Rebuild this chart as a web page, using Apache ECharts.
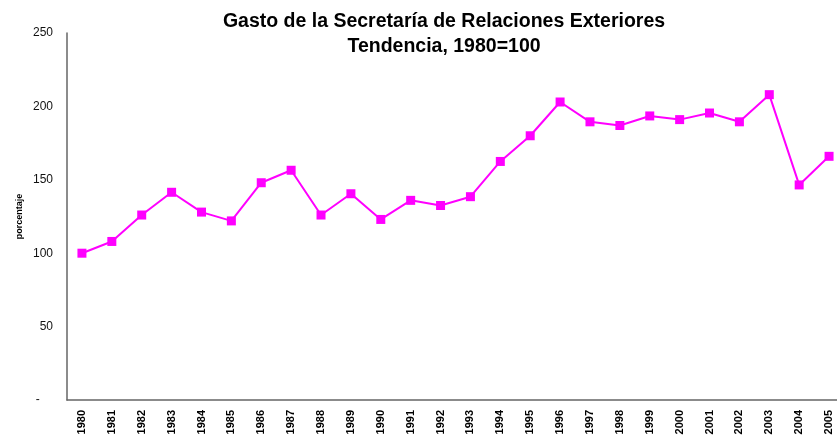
<!DOCTYPE html>
<html>
<head>
<meta charset="utf-8">
<script src="https://cdn.jsdelivr.net/npm/echarts@6/dist/echarts.min.js"></script>
<style>html,body{margin:0;padding:0;background:#fff;}#c{width:837px;height:439px;}</style>
</head>
<body>
<div id="c"></div>
<script>
var years = ['1980','1981','1982','1983','1984','1985','1986','1987','1988','1989','1990','1991','1992','1993','1994','1995','1996','1997','1998','1999','2000','2001','2002','2003','2004','2005'];
var values = [100, 108, 126, 141.5, 128, 122, 148, 156.5, 126, 140.5, 123, 136, 132.5, 138.5, 162.5, 180, 203, 189.5, 187, 193.5, 191, 195.5, 189.5, 208, 146.5, 166];
var yTicks = [0, 50, 100, 150, 200, 250];

var chart = echarts.init(document.getElementById('c'));
chart.setOption({
  animation: false,
  backgroundColor: '#ffffff',
  title: {
    text: 'Gasto de la Secretaría de Relaciones Exteriores\nTendencia, 1980=100',
    left: 439, top: 4, textAlign: 'center',
    textStyle: { fontFamily: 'Liberation Sans, Arial', fontWeight: 'bold', fontSize: 19.5, color: '#000', lineHeight: 25 }
  },
  grid: { left: 67, top: 33, width: 777, height: 367, outerBoundsMode: 'none', containLabel: false },
  xAxis: {
    type: 'category', data: years, boundaryGap: true,
    axisLine: { lineStyle: { color: '#666', width: 1.5 } },
    axisTick: { show: false },
    axisLabel: { rotate: 90, interval: 0, margin: 10, fontFamily: 'Liberation Sans, Arial', fontWeight: 'bold', fontSize: 11, color: '#000' }
  },
  yAxis: {
    type: 'value', min: yTicks[0], max: yTicks[yTicks.length-1], interval: 50,
    name: 'porcentaje', nameLocation: 'middle', nameGap: 43, nameRotate: 90, nameMoveOverlap: false,
    nameTextStyle: { fontFamily: 'Liberation Sans, Arial', fontWeight: 'bold', fontSize: 9, color: '#000' },
    axisLine: { show: true, lineStyle: { color: '#666', width: 1.5 } },
    axisTick: { show: false },
    splitLine: { show: false },
    axisLabel: { margin: 14, fontFamily: 'Liberation Sans, Arial', fontSize: 12, color: '#111',
      formatter: function (v) { return v === 0 ? '-    ' : String(v); } }
  },
  series: [{
    type: 'line', data: values,
    symbol: 'rect', symbolSize: 9,
    itemStyle: { color: '#ff00ff' },
    lineStyle: { color: '#ff00ff', width: 2 }
  }]
});
</script>
</body>
</html>
